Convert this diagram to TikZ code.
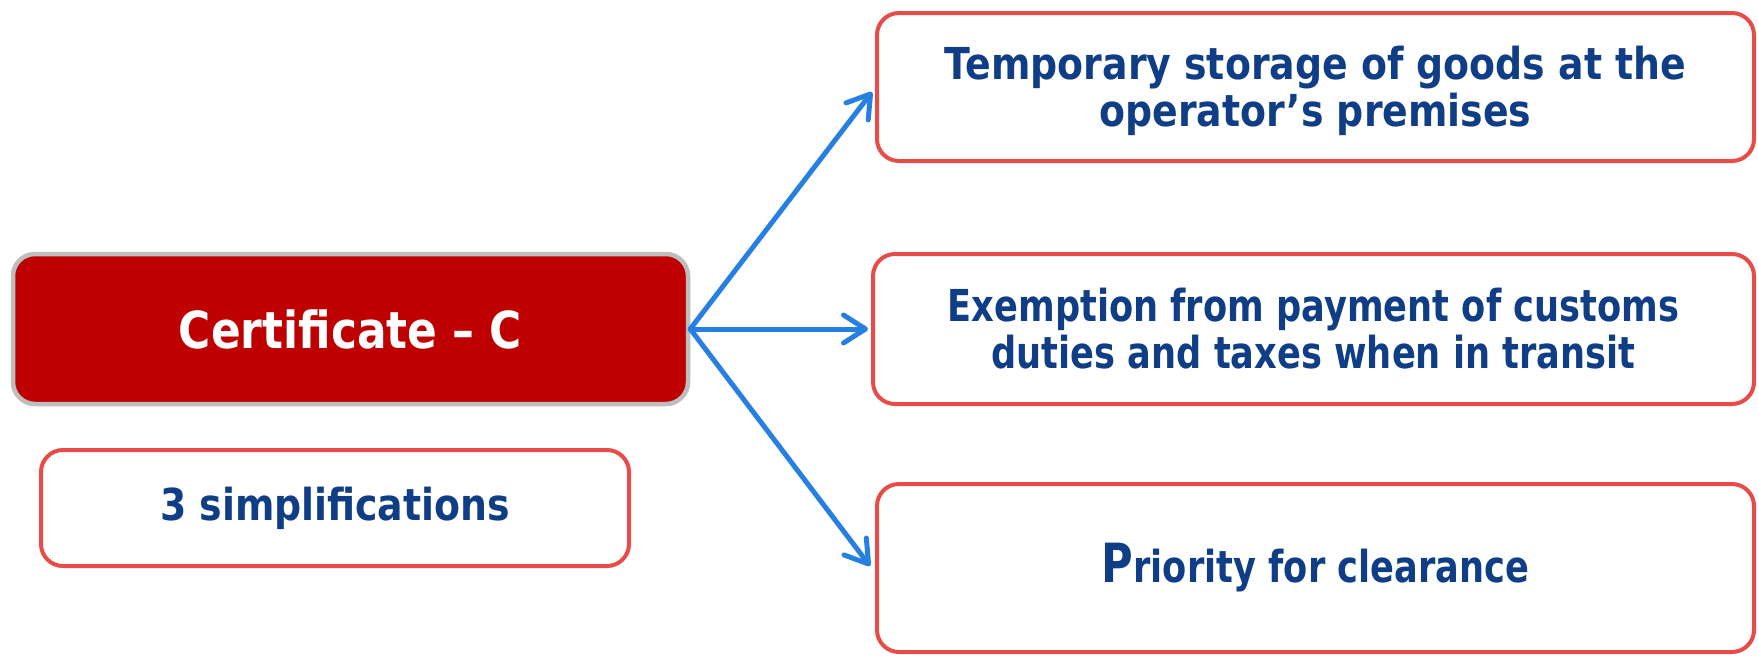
\documentclass[tikz,border=0pt]{standalone}
\usepackage{fontspec}
\setmainfont{DejaVu Sans}[FakeStretch=0.86]
\newfontfamily\narrowface{DejaVu Sans}[FakeStretch=0.80]
\usetikzlibrary{arrows.meta,calc}

\definecolor{boxred}{RGB}{232,76,72}
\definecolor{textblue}{RGB}{16,62,134}
\definecolor{linkblue}{RGB}{38,128,226}
\definecolor{certred}{RGB}{190,0,0}
\definecolor{certgray}{RGB}{190,190,190}

\tikzset{
  card/.style={draw=boxred, line width=4pt, rounded corners=22pt, fill=white,
    align=center, text=textblue, inner sep=0pt,
    font=\fontsize{44}{47}\selectfont\bfseries},
  narrowcard/.style={card, font=\narrowface\fontsize{44}{47}\selectfont\bfseries},
  certbox/.style={draw=certgray, line width=4.5pt, rounded corners=22pt,
    fill=certred, text=white, align=center, inner sep=0pt,
    font=\fontsize{51}{55}\selectfont\bfseries},
  link/.style={draw=linkblue, line width=5pt, line cap=round,
    -{Straight Barb[length=22pt,width=28pt,round]}},
}

\begin{document}
\begin{tikzpicture}[x=1pt,y=-1pt]
  \useasboundingbox (0,0) rectangle (1758,656);

  % left column
  \node[certbox, minimum width=675pt, minimum height=150pt] (cert) at (350.5,329)
    {Certificate – C};
  \node[card, minimum width=588pt, minimum height=116pt] (simp) at (335,508)
    {3 simplifications};

  % right column
  \node[card, minimum width=877pt, minimum height=148pt] (b1) at (1315.5,87)
    {};
  \node[card, draw=none, fill=none] (b1text) at ($(b1.center)+(0,4)$)
    {Temporary storage of goods at the\\operator’s premises};
  \node[narrowcard, minimum width=881pt, minimum height=150pt] (b2) at (1313.5,329)
    {Exemption from payment of customs\\duties and taxes when in transit};
  \node[narrowcard, minimum width=877pt, minimum height=168pt] (b3) at (1315.5,568)
    {{\fontsize{54}{54}\selectfont P}riority for clearance};

  % connectors
  \coordinate (t1) at ($(b1.west)+(-3,5)$);
  \coordinate (t3) at ($(b3.west)+(-5,-2)$);
  \draw[link] (cert.east) -- (t1);
  \draw[link] (cert.east) -- ($(b2.west)+(-3,0)$);
  \draw[link] (cert.east) -- (t3);
\end{tikzpicture}
\end{document}
